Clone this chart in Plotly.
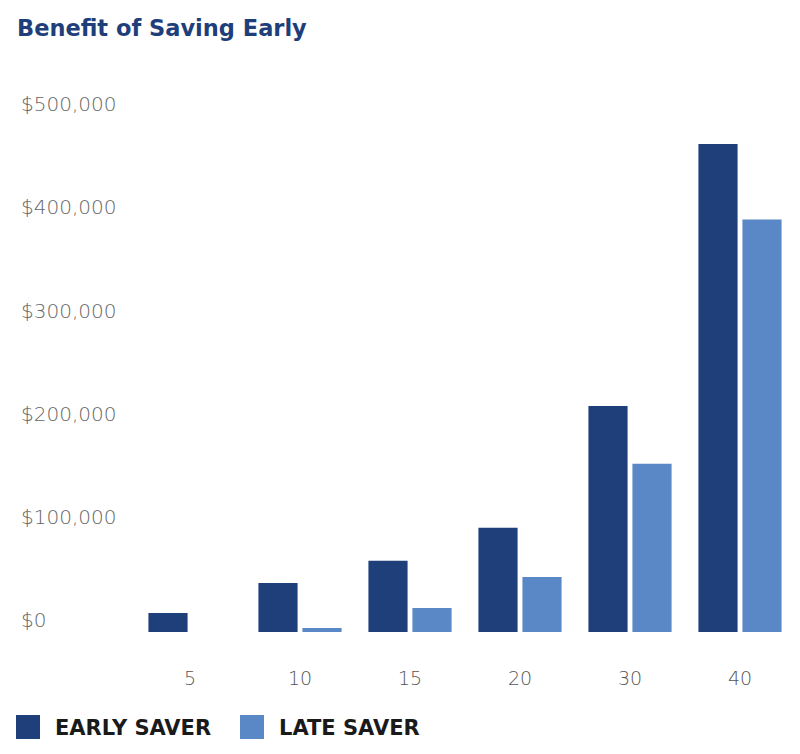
import plotly.graph_objects as go

years = ["5", "10", "15", "20", "30", "40"]
early_saver = [18400, 47600, 69000, 101000, 219000, 473000]
late_saver = [0, 3900, 23300, 53400, 163000, 400000]
y_ticks = [0, 100000, 200000, 300000, 400000, 500000]
y_tick_labels = ["$0", "$100,000", "$200,000", "$300,000", "$400,000", "$500,000"]
series_names = ["EARLY SAVER", "LATE SAVER"]

EARLY_COLOR = "#1f3f7a"
LATE_COLOR = "#5a88c6"

# the page body adds an 8px offset, so layout is laid out 8px up/left
W, H = 800, 754
Y_MAX = 540000
L, R, B = 9, 13, 130             # margin left = where left-aligned y labels start
T = 624 - round(Y_MAX / 100000 * 103.1)
PLOT_LEFT = 127                  # where the bar area starts
PW, PH = W - L - R, H - T - B
X_DOMAIN_START = (PLOT_LEFT - L) / PW


def px_to_paper(px, py):
    return (px - L) / PW, (H - B - py) / PH


fig = go.Figure()
fig.add_trace(go.Bar(x=years, y=early_saver, name=series_names[0], marker_color=EARLY_COLOR,
                     marker_line_width=0))
fig.add_trace(go.Bar(x=years, y=late_saver, name=series_names[1], marker_color=LATE_COLOR,
                     marker_line_width=0))

# custom legend (large squares + text)
for (sx, tx, name, col) in [(8, 45, series_names[0], EARLY_COLOR), (232, 269, series_names[1], LATE_COLOR)]:
    x0, y0 = px_to_paper(sx, 731)
    x1, y1 = px_to_paper(sx + 24, 707)
    fig.add_shape(type="rect", xref="paper", yref="paper", x0=x0, x1=x1, y0=y0, y1=y1,
                  fillcolor=col, line_width=0)
    ax, ay = px_to_paper(tx, 720)
    fig.add_annotation(xref="paper", yref="paper", x=ax, y=ay, xanchor="left", yanchor="middle",
                       text=name, showarrow=False,
                       font=dict(family="DejaVu Sans", size=21, color="#1a1a1a", weight=700))

fig.update_layout(
    width=W, height=H,
    margin=dict(l=L, r=R, t=T, b=B, autoexpand=False),
    paper_bgcolor="white", plot_bgcolor="white",
    barmode="group", bargap=0.2, bargroupgap=0.11,
    title=dict(text="Benefit of Saving Early", x=9 / W, xanchor="left",
               y=1 - 20 / H, yanchor="middle", xref="container", yref="container",
               font=dict(family="DejaVu Sans", size=22.5, color="#1f3f7a", weight=700)),
    font=dict(family="DejaVu Sans", color="#555555"),
    showlegend=False,
)
fig.update_xaxes(type="category", domain=[X_DOMAIN_START, 1], showline=False, showgrid=False,
                 zeroline=False, ticks="", ticklabelstandoff=33, automargin=False,
                 tickfont=dict(family="DejaVu Sans", size=19, color="#555555", weight=200))
fig.update_yaxes(range=[0, Y_MAX], anchor="free", position=0, showline=False, showgrid=False,
                 zeroline=False, tickvals=y_ticks, ticktext=y_tick_labels, ticks="",
                 automargin=False, ticklabelposition="inside",
                 ticklabelshift=-12, ticklabelstandoff=0,
                 tickfont=dict(family="DejaVu Sans", size=20, color="#666666", weight=200))

fig.write_html("out.html")
